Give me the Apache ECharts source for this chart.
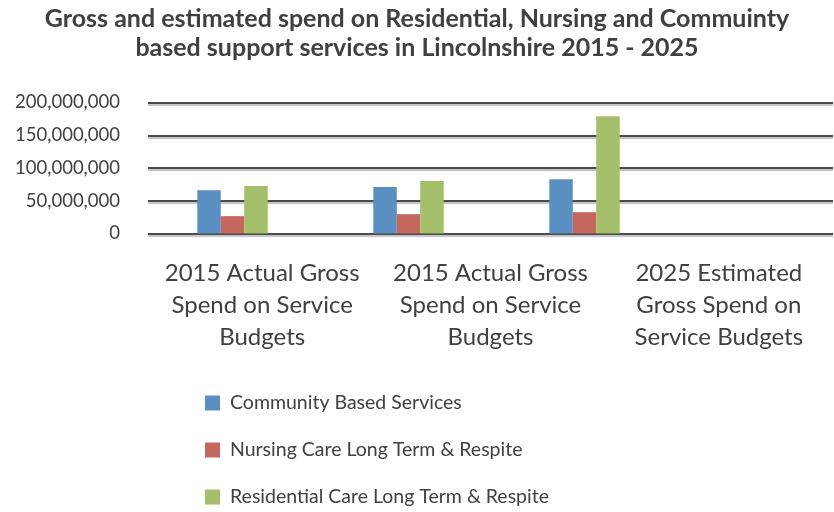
<!DOCTYPE html>
<html>
<head>
<meta charset="utf-8">
<script src="https://cdn.jsdelivr.net/npm/echarts@6/dist/echarts.min.js"></script>
<style>html,body{margin:0;padding:0;background:#fff}#c{width:834px;height:512px}</style>
</head>
<body>
<div id="c"></div>
<script>
const categories = [
  "2015 Actual Gross\nSpend on Service\nBudgets",
  "2015 Actual Gross\nSpend on Service\nBudgets",
  "2025 Estimated\nGross Spend on\nService Budgets"
];
const seriesNames = [
  "Community Based Services",
  "Nursing Care Long Term & Respite",
  "Residential Care Long Term & Respite"
];
const community = [66000000, 71000000, 83000000];
const nursing = [26500000, 29500000, 32500000];
const residential = [72500000, 80000000, 179000000];
const colors = ["#5B8FC2", "#C5665F", "#A4BE69"];
const FONT = "Lato";
const TXT = "#404040";

const chart = echarts.init(document.getElementById('c'));
const values = [community, nursing, residential];
chart.setOption({
  animation: false,
  textStyle: { fontFamily: FONT, color: TXT },
  title: {
    text: "Gross and estimated spend on Residential, Nursing and Commuinty\nbased support services in Lincolnshire 2015 - 2025",
    left: 'center', top: -1,
    textStyle: { fontFamily: FONT, fontSize: 25, fontWeight: 'bold', color: TXT, lineHeight: 29 }
  },
  legend: {
    orient: 'vertical', left: 205, top: 393, padding: 0, height: 119,
    itemWidth: 15, itemHeight: 15, itemGap: 27,
    icon: 'rect',
    textStyle: { fontFamily: FONT, fontSize: 19.5, lineHeight: 20, color: TXT, padding: [0, 0, 0, 5] },
    data: seriesNames
  },
  grid: [
    { left: 148, right: 1, top: 102.5, bottom: 278.5 },
    { left: 144.5, right: 161.5, top: 102.5, bottom: 278.5 }
  ],
  xAxis: [
    { type: 'category', gridIndex: 0, data: categories,
      axisLine: { show: false }, axisTick: { show: false },
      axisLabel: { fontFamily: FONT, fontSize: 24, color: TXT, lineHeight: 32, margin: 24, interval: 0 } },
    { type: 'category', gridIndex: 1, data: categories, show: false }
  ],
  yAxis: [
    { type: 'value', gridIndex: 0, min: 0, max: 200000000, interval: 50000000,
      axisLine: { show: false }, axisTick: { show: false },
      axisLabel: { fontFamily: FONT, fontSize: 18.5, color: TXT, margin: 28,
        formatter: v => v.toLocaleString('en-US') },
      splitLine: { lineStyle: { color: '#4a4a4a', width: 2, shadowColor: 'rgba(0,0,0,0.25)', shadowOffsetY: 2, shadowBlur: 1 } } },
    { type: 'value', gridIndex: 1, min: 0, max: 200000000, interval: 50000000, show: false,
      splitLine: { show: false } }
  ],
  series: seriesNames.map((n, i) => ({
    name: n, type: 'bar', xAxisIndex: 1, yAxisIndex: 1,
    data: values[i], itemStyle: { color: colors[i] },
    barGap: '0%', barCategoryGap: '60%', z: 3
  }))
});
</script>
</body>
</html>
